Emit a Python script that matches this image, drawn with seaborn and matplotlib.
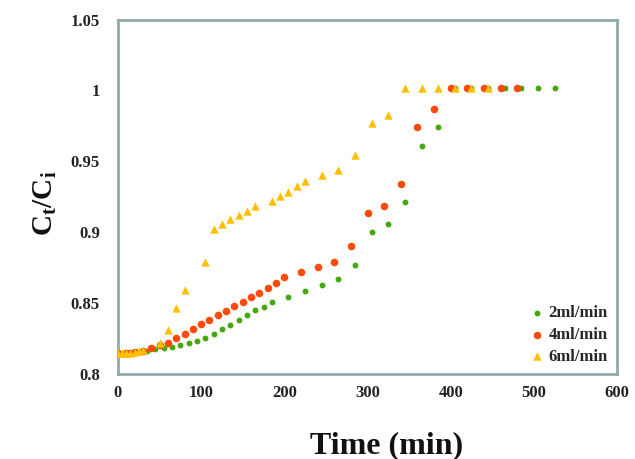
import numpy as np
import pandas as pd
import matplotlib
matplotlib.use("Agg")
import matplotlib.pyplot as plt
import seaborn as sns

# Breakthrough data: time (min) vs normalised concentration Ct/Ci
time_2 = [0, 15, 25, 35, 45, 55, 65, 75, 85, 95, 105, 115, 125, 135, 145, 155,
          165, 175, 185, 205, 225, 245, 265, 285, 305, 325, 345, 365, 385,
          405, 425, 445, 465, 485, 505, 525]
ratio_2 = [0.8148, 0.8152, 0.8158, 0.8165, 0.8173, 0.8182, 0.8193, 0.8205,
           0.8221, 0.8235, 0.8252, 0.8282, 0.8315, 0.8346, 0.838, 0.8414,
           0.845, 0.8475, 0.851, 0.854, 0.8586, 0.863, 0.867, 0.877, 0.8998,
           0.9057, 0.921, 0.961, 0.974, 1.002, 1.002, 1.002, 1.002, 1.002,
           1.002, 1.002]

time_4 = [0, 10, 20, 30, 40, 50, 60, 70, 80, 90, 100, 110, 120, 130, 140, 150,
          160, 170, 180, 190, 200, 220, 240, 260, 280, 300, 320, 340, 360, 380,
          400, 420, 440, 460, 480]
ratio_4 = [0.8148, 0.815, 0.8155, 0.8165, 0.8181, 0.8205, 0.8221, 0.8252,
           0.8282, 0.8315, 0.835, 0.838, 0.8414, 0.8447, 0.8478, 0.851, 0.854,
           0.8574, 0.8605, 0.864, 0.8683, 0.872, 0.8753, 0.879, 0.89, 0.9134,
           0.9186, 0.934, 0.974, 0.987, 1.002, 1.002, 1.002, 1.002, 1.002]

time_6 = [0, 5, 10, 15, 20, 25, 30, 50, 60, 70, 80, 105, 115, 125, 135, 145,
          155, 165, 185, 195, 205, 215, 225, 245, 265, 285, 305, 325, 345, 365,
          385, 405, 425, 445]
ratio_6 = [0.8148, 0.8148, 0.815, 0.815, 0.8155, 0.816, 0.817, 0.8217, 0.8313,
           0.8462, 0.8589, 0.879, 0.902, 0.906, 0.9093, 0.9123, 0.9153, 0.9186,
           0.9217, 0.9252, 0.9285, 0.9323, 0.9363, 0.94, 0.944, 0.9547, 0.977,
           0.983, 1.002, 1.002, 1.002, 1.002, 1.002, 1.002]

series_names = ["2ml/min", "4ml/min", "6ml/min"]
x_ticks = [0, 100, 200, 300, 400, 500, 600]
y_ticks = [0.8, 0.85, 0.9, 0.95, 1.0, 1.05]
y_tick_labels = ["0.8", "0.85", "0.9", "0.95", "1", "1.05"]

df = pd.concat([
    pd.DataFrame({"Time": time_2, "Ratio": ratio_2, "Flow": series_names[0]}),
    pd.DataFrame({"Time": time_4, "Ratio": ratio_4, "Flow": series_names[1]}),
    pd.DataFrame({"Time": time_6, "Ratio": ratio_6, "Flow": series_names[2]}),
], ignore_index=True)

sns.set_theme(style="white")
plt.rcParams["font.family"] = ["Liberation Serif", "DejaVu Serif"]

palette = {"2ml/min": "#45A80F", "4ml/min": "#FF4A0A", "6ml/min": "#FFBE00"}
markers = {"2ml/min": "o", "4ml/min": "o", "6ml/min": "^"}
sizes = {"2ml/min": 18, "4ml/min": 30, "6ml/min": 36}

fig = plt.figure(figsize=(6.35, 4.59), dpi=100)
ax = fig.add_axes([118 / 635, 1 - 374 / 459, 499 / 635, 354.5 / 459])

for name in series_names:
    sub = df[df["Flow"] == name]
    sns.scatterplot(data=sub, x="Time", y="Ratio", ax=ax, color=palette[name],
                    marker=markers[name], s=sizes[name], linewidth=0,
                    label=name, zorder=3)

ax.set_xlim(0, 600)
ax.set_ylim(0.8, 1.05)
ax.set_xticks(x_ticks)
ax.set_xticklabels([str(t) for t in x_ticks])
ax.set_yticks(y_ticks)
ax.set_yticklabels(y_tick_labels)
ax.tick_params(axis="both", length=0, labelsize=12, colors="#222222")
ax.tick_params(axis="y", pad=13)
ax.tick_params(axis="x", pad=8)
for lab in ax.get_xticklabels() + ax.get_yticklabels():
    lab.set_fontweight("bold")

for side in ["left", "right", "top", "bottom"]:
    ax.spines[side].set_visible(True)
    ax.spines[side].set_color("#93AAAA")
    ax.spines[side].set_linewidth(2.0)

ax.set_xlabel("")
ax.set_ylabel("")
fig.text(387 / 635, 1 - 446 / 459, "Time (min)", ha="center", va="center",
         fontsize=23, fontweight="bold", color="#111111")
fig.text(45 / 635, 1 - 203 / 459, r"$\mathregular{C_t/C_i}$", ha="center",
         va="center", rotation=90, fontsize=21, fontweight="bold",
         color="#111111")

leg = ax.legend(loc="lower right", bbox_to_anchor=(1.0, 0.0), frameon=False,
                handletextpad=0.05, labelspacing=0.35, handlelength=1.3,
                borderaxespad=0.15,
                prop={"family": "Liberation Serif", "weight": "bold",
                      "size": 12})

fig.savefig("out.png", dpi=100)
